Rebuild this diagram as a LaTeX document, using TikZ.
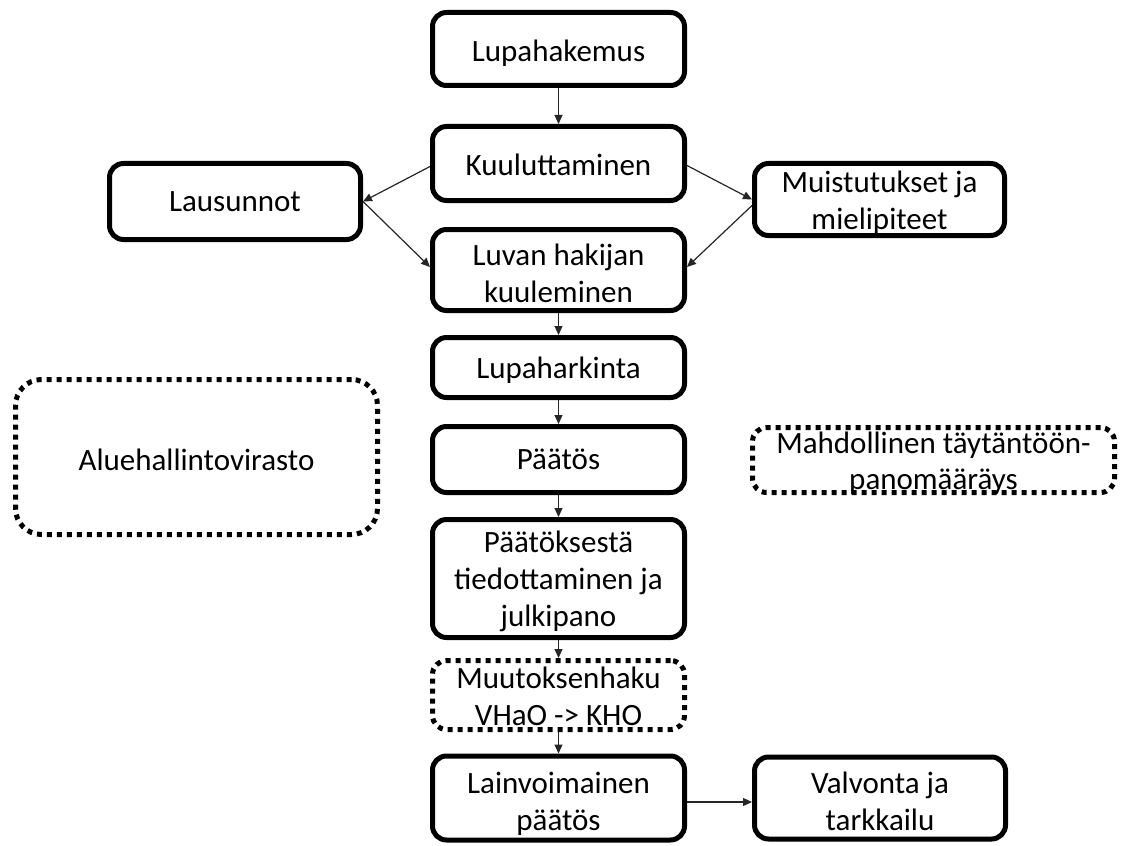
\documentclass[tikz,border=0pt]{standalone}
\usepackage{fontspec}
\setmainfont{Carlito}
\usetikzlibrary{arrows.meta}
\begin{document}
\begin{tikzpicture}[x=1pt,y=-1pt,
  txt/.style={align=center, font=\fontsize{31}{37}\selectfont, text=black, inner sep=0pt},
  box/.style={draw=black, line width=5pt, rounded corners=14pt, fill=white, inner sep=0pt},
  dotbox/.style={draw=black, line width=5pt, rounded corners=14pt, dash pattern=on 5pt off 5pt, inner sep=0pt},
  arr/.style={draw=black!85, line width=1.2pt, -{Triangle[length=9pt,width=8pt]}}
]
\useasboundingbox (0,0) rectangle (1123,845);

% main column boxes
\node[box, minimum width=252, minimum height=73] (lup) at (558.5,49) {};
\node[box, minimum width=252, minimum height=74] (kuu) at (558.5,163.5) {};
\node[box, minimum width=252, minimum height=81] (luv) at (558.5,270) {};
\node[box, minimum width=252, minimum height=60] (har) at (558.5,367.5) {};
\node[box, minimum width=252, minimum height=66] (pat) at (558.5,459.5) {};
\node[box, minimum width=252, minimum height=118] (tie) at (558.5,578.5) {};
\node[dotbox, minimum width=252, minimum height=69] (muu) at (558.5,695) {};
\node[box, minimum width=252, minimum height=84] (lai) at (558.5,798) {};

% side boxes
\node[box, minimum width=251, minimum height=82] (val) at (880,798) {};
\node[box, minimum width=251, minimum height=76] (lau) at (235,201.5) {};
\node[box, minimum width=250, minimum height=72] (mui) at (879.5,199.5) {};

% dotted boxes
\node[dotbox, rounded corners=26pt, minimum width=362, minimum height=155] (alu) at (196.5,457) {};
\node[dotbox, minimum width=362, minimum height=65] (mah) at (933.5,460) {};

% texts
\node[txt] (lupt) at (558.5,53.5) {Lupahakemus};
\node[txt] (kuut) at (558.5,164.5) {Kuuluttaminen};
\node[txt] (luvt) at (558.5,273) {Luvan hakijan\\kuuleminen};
\node[txt] (hart) at (558.5,370.5) {Lupaharkinta};
\node[txt] (patt) at (558.5,459.5) {Päätös};
\node[txt] (tiet) at (558.5,581.5) {Päätöksestä\\tiedottaminen ja\\julkipano};
\node[txt] (muut) at (558.5,696) {Muutoksenhaku\\VHaO -> KHO};
\node[txt] (lait) at (558.5,804) {Lainvoimainen\\päätös};
\node[txt] (valt) at (880,801) {Valvonta ja\\tarkkailu};
\node[txt] (laut) at (235,201.5) {Lausunnot};
\node[txt] (muit) at (879.5,203) {Muistutukset ja\\mielipiteet};
\node[txt] (alut) at (196.5,459.5) {Aluehallintovirasto};
\node[txt, font=\fontsize{31}{36}\selectfont] (maht) at (933.5,463) {Mahdollinen täytäntöön-\\panomääräys};

% connectors
\draw[arr] (lup.south) -- (kuu.north);
\draw[arr] ([yshift=-3pt]kuu.west) -- (lau.east);
\draw[arr] (lau.east) -- ([yshift=3pt]luv.west);
\draw[arr] ([yshift=-2pt]kuu.east) -- (mui.west);
\draw[arr] ([yshift=-6pt]mui.west) -- ([yshift=3pt]luv.east);
\draw[arr] (luv.south) -- (har.north);
\draw[arr] (har.south) -- (pat.north);
\draw[arr] (pat.south) -- (tie.north);
\draw[arr] (tie.south) -- (muu.north);
\draw[arr] (muu.south) -- (lai.north);
\draw[arr] ([yshift=-4pt]lai.east) -- ([yshift=-4pt]val.west);
\end{tikzpicture}
\end{document}
